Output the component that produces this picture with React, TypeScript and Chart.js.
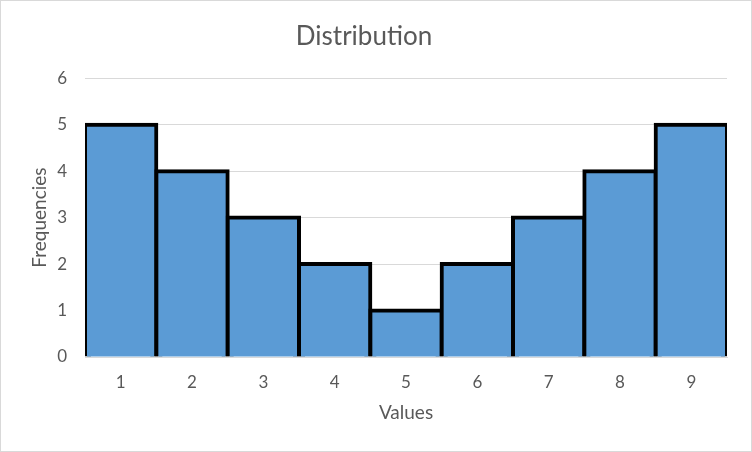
import React, { useEffect, useRef } from "react";
import { Chart, registerables } from "chart.js";

Chart.register(...registerables);

const categories = ["1", "2", "3", "4", "5", "6", "7", "8", "9"];
const frequencies = [5, 4, 3, 2, 1, 2, 3, 4, 5];
const yTicks = [0, 1, 2, 3, 4, 5, 6];

const FONT = "Lato, 'Open Sans', sans-serif";
const TEXT = "#595959";
const GRID = "#d9d9d9";

export default function App() {
  const ref = useRef<HTMLCanvasElement | null>(null);

  useEffect(() => {
    const canvas = ref.current;
    if (!canvas) return;
    const chart = new Chart(canvas, {
      type: "bar",
      data: {
        labels: categories,
        datasets: [
          {
            label: "Frequencies",
            data: frequencies,
            backgroundColor: "#5B9BD5",
            borderColor: "#000000",
            borderWidth: 4,
            inflateAmount: 2,
            barPercentage: 1,
            categoryPercentage: 1,
          } as any,
        ],
      },
      options: {
        responsive: false,
        animation: false,
        devicePixelRatio: 1,
        layout: { padding: { left: 0, right: 24, top: 0, bottom: 0 } },
        plugins: {
          legend: { display: false },
          tooltip: { enabled: false },
          title: {
            display: true,
            text: "Distribution",
            color: TEXT,
            font: { family: FONT, size: 26, weight: "normal" },
            padding: { top: 20, bottom: 26 },
          },
        },
        scales: {
          x: {
            grid: { display: false, drawTicks: false },
            border: { display: true, color: GRID, width: 1 },
            ticks: {
              color: TEXT,
              font: { family: FONT, size: 17 },
              padding: 15,
              maxRotation: 0,
            },
            title: {
              display: true,
              text: "Values",
              color: TEXT,
              font: { family: FONT, size: 19 },
              padding: { top: 0, bottom: 27 },
            },
            afterFit: (s: any) => {
              s.height = 94;
            },
          },
          y: {
            min: 0,
            max: 6,
            afterBuildTicks: (s: any) => {
              s.ticks = yTicks.map((v) => ({ value: v }));
            },
            grid: { color: GRID, lineWidth: 1, drawTicks: false },
            border: { display: false },
            ticks: {
              color: TEXT,
              font: { family: FONT, size: 17 },
              padding: 18,
            },
            title: {
              display: true,
              text: "Frequencies",
              color: TEXT,
              font: { family: FONT, size: 19 },
              padding: { top: 27, bottom: 0 },
            },
            afterFit: (s: any) => {
              s.width = 84;
            },
          },
        },
      },
    });
    return () => chart.destroy();
  }, []);

  return (
    <div
      style={{
        position: "absolute",
        left: 0,
        top: 0,
        width: 752,
        height: 452,
        boxSizing: "border-box",
        border: "1px solid #d9d9d9",
        background: "#ffffff",
      }}
    >
      <canvas ref={ref} width={750} height={450} style={{ display: "block", width: 750, height: 450 }} />
    </div>
  );
}
